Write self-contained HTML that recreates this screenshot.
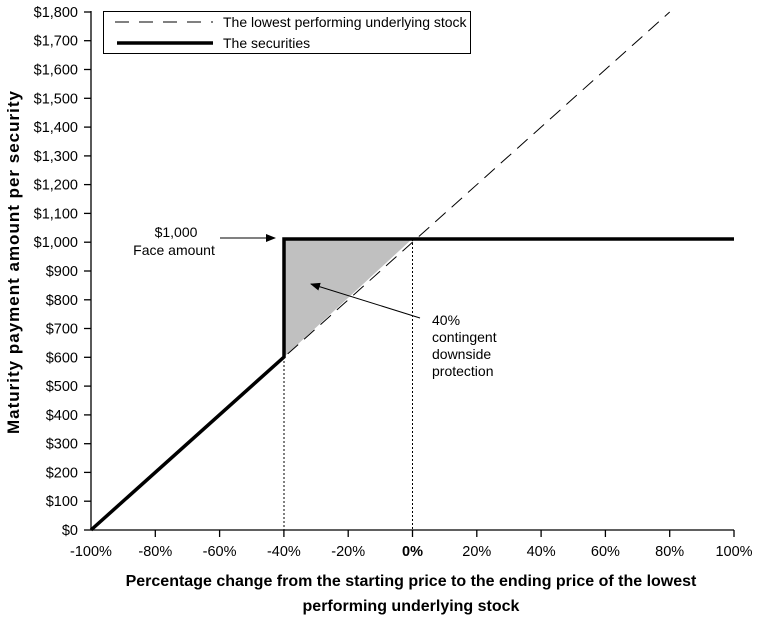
<!DOCTYPE html>
<html><head><meta charset="utf-8"><style>
body{margin:0;background:#fff}
svg text{font-family:"Liberation Sans",Arial,sans-serif;fill:#000}
</style></head><body>
<svg width="763" height="619" viewBox="0 0 763 619" xmlns="http://www.w3.org/2000/svg">
<defs><marker id="ah" markerWidth="10" markerHeight="8" refX="9" refY="4" orient="auto" markerUnits="userSpaceOnUse"><path d="M0,0 L10,4 L0,8 z" fill="#000"/></marker></defs>
<polygon points="284,239 412,239 284,357" fill="#c0c0c0"/>
<line x1="91" y1="530" x2="91" y2="11" stroke="#000" stroke-width="1.3"/>
<line x1="91" y1="530" x2="734" y2="530" stroke="#000" stroke-width="1.3"/>
<g stroke="#000" stroke-width="1.3">
<line x1="84" y1="530" x2="91" y2="530"/><line x1="84" y1="501.2" x2="91" y2="501.2"/><line x1="84" y1="472.4" x2="91" y2="472.4"/><line x1="84" y1="443.7" x2="91" y2="443.7"/><line x1="84" y1="414.9" x2="91" y2="414.9"/><line x1="84" y1="386.1" x2="91" y2="386.1"/><line x1="84" y1="357.3" x2="91" y2="357.3"/><line x1="84" y1="328.5" x2="91" y2="328.5"/><line x1="84" y1="299.8" x2="91" y2="299.8"/><line x1="84" y1="271" x2="91" y2="271"/><line x1="84" y1="242.2" x2="91" y2="242.2"/><line x1="84" y1="213.4" x2="91" y2="213.4"/><line x1="84" y1="184.6" x2="91" y2="184.6"/><line x1="84" y1="155.9" x2="91" y2="155.9"/><line x1="84" y1="127.1" x2="91" y2="127.1"/><line x1="84" y1="98.3" x2="91" y2="98.3"/><line x1="84" y1="69.5" x2="91" y2="69.5"/><line x1="84" y1="40.7" x2="91" y2="40.7"/><line x1="84" y1="12" x2="91" y2="12"/>
<line x1="155.3" y1="530" x2="155.3" y2="537"/><line x1="219.6" y1="530" x2="219.6" y2="537"/><line x1="283.9" y1="530" x2="283.9" y2="537"/><line x1="348.2" y1="530" x2="348.2" y2="537"/><line x1="412.5" y1="530" x2="412.5" y2="537"/><line x1="476.8" y1="530" x2="476.8" y2="537"/><line x1="541.1" y1="530" x2="541.1" y2="537"/><line x1="605.4" y1="530" x2="605.4" y2="537"/><line x1="669.7" y1="530" x2="669.7" y2="537"/><line x1="734" y1="530" x2="734" y2="537"/>
</g>
<g font-size="14.5" text-anchor="end">
<text x="78" y="535">$0</text><text x="78" y="506.2">$100</text><text x="78" y="477.4">$200</text><text x="78" y="448.7">$300</text><text x="78" y="419.9">$400</text><text x="78" y="391.1">$500</text><text x="78" y="362.3">$600</text><text x="78" y="333.5">$700</text><text x="78" y="304.8">$800</text><text x="78" y="276">$900</text><text x="78" y="247.2">$1,000</text><text x="78" y="218.4">$1,100</text><text x="78" y="189.6">$1,200</text><text x="78" y="160.9">$1,300</text><text x="78" y="132.1">$1,400</text><text x="78" y="103.3">$1,500</text><text x="78" y="74.5">$1,600</text><text x="78" y="45.7">$1,700</text><text x="78" y="17">$1,800</text>
</g>
<g font-size="14.5" text-anchor="middle">
<text x="91" y="556">-100%</text><text x="155.3" y="556">-80%</text><text x="219.6" y="556">-60%</text><text x="283.9" y="556">-40%</text><text x="348.2" y="556">-20%</text><text x="412.5" y="556" font-weight="bold">0%</text><text x="476.8" y="556">20%</text><text x="541.1" y="556">40%</text><text x="605.4" y="556">60%</text><text x="669.7" y="556">80%</text><text x="734" y="556">100%</text>
</g>
<line x1="284" y1="357" x2="284" y2="530" stroke="#000" stroke-dasharray="2,2"/>
<line x1="412.5" y1="239" x2="412.5" y2="530" stroke="#000" stroke-dasharray="2,2"/>
<line x1="91" y1="530" x2="669.7" y2="12" stroke="#000" stroke-width="1" stroke-dasharray="14,8"/>
<polyline points="91,530 284,357 284,239 734,239" fill="none" stroke="#000" stroke-width="3.5" stroke-linejoin="miter"/>
<rect x="103.5" y="11.5" width="367" height="42" fill="#fff" stroke="#000"/>
<line x1="115" y1="22" x2="213" y2="22" stroke="#000" stroke-dasharray="14,10"/>
<line x1="117" y1="43" x2="213" y2="43" stroke="#000" stroke-width="3.5"/>
<text x="223" y="27" font-size="14">The lowest performing underlying stock</text>
<text x="223" y="48" font-size="14">The securities</text>
<text x="176" y="237" font-size="14" text-anchor="middle">$1,000</text>
<text x="174" y="255" font-size="14" text-anchor="middle">Face amount</text>
<line x1="220" y1="238" x2="275" y2="238" stroke="#000" marker-end="url(#ah)"/>
<text x="432" y="325" font-size="14">40%</text>
<text x="432" y="342" font-size="14">contingent</text>
<text x="432" y="359" font-size="14">downside</text>
<text x="432" y="376" font-size="14">protection</text>
<line x1="420" y1="318" x2="311" y2="284" stroke="#000" marker-end="url(#ah)"/>
<text transform="translate(19,262) rotate(-90)" font-size="17" font-weight="bold" text-anchor="middle" letter-spacing="1">Maturity payment amount per security</text>
<text x="411" y="586" font-size="16" font-weight="bold" text-anchor="middle">Percentage change from the starting price to the ending price of the lowest</text>
<text x="411" y="611" font-size="16" font-weight="bold" text-anchor="middle">performing underlying stock</text>
</svg>
</body></html>
